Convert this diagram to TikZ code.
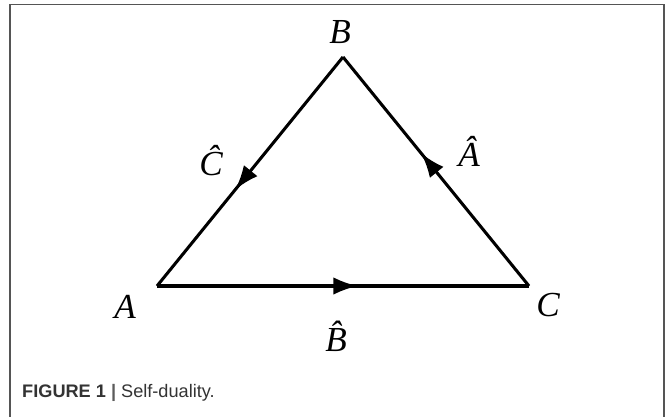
\documentclass[tikz,border=0pt]{standalone}
\usepackage{fontspec}
\setmainfont{Liberation Serif}
\setsansfont{Liberation Sans}
\usepackage{tikz}
\usetikzlibrary{arrows.meta,decorations.markings,positioning}
\definecolor{framegray}{HTML}{555555}
\definecolor{capgray}{HTML}{333333}

\tikzset{
    side/.style={line width=2.6pt, postaction={decorate}},
    midarrow/.style={decoration={markings,
        mark=at position #1 with {\arrow{Latex[length=21pt,width=15pt]}}}},
    vlabel/.style={font=\fontsize{30}{34}\selectfont\itshape, inner sep=0pt}
}

\begin{document}
\begin{tikzpicture}[x=0.03cm, y=-0.03cm]
    \useasboundingbox (0,0) rectangle (666,417);
    % Open frame round the figure
    \draw[framegray, line width=1.2pt] (10,417) -- (10,4.5) -- (664,4.5) -- (664,417);

    % Vertices of the triangle
    \coordinate (A) at (157,286);
    \coordinate (B) at (343,57);
    \coordinate (C) at (529,286);

    % Oriented sides
    \draw[side, midarrow=0.54] (A) -- (C);
    \draw[side, midarrow=0.58] (C) -- (B);
    \draw[side, midarrow=0.58] (B) -- (A);

    % Vertex labels
    \node[vlabel] (la) at (125,307) {A};
    \node[vlabel] (lb) at (340,32) {B};
    \node[vlabel] (lc) at (548,305) {C};

    % Side labels
    \node[vlabel] (lbh) at (336,336) {\^{B}};
    \node[vlabel] (lch) at (211,161) {\^{C}};
    \node[vlabel] (lah) at (469,151) {\^{A}};

    % Caption
    \node[anchor=base west, inner sep=0pt, text=capgray,
          font=\sffamily\fontsize{15.5}{18}\selectfont] (cap) at (22,397)
        {\textbf{FIGURE 1} {\color{capgray!80}\textbf{|}} Self-duality.};
\end{tikzpicture}
\end{document}
